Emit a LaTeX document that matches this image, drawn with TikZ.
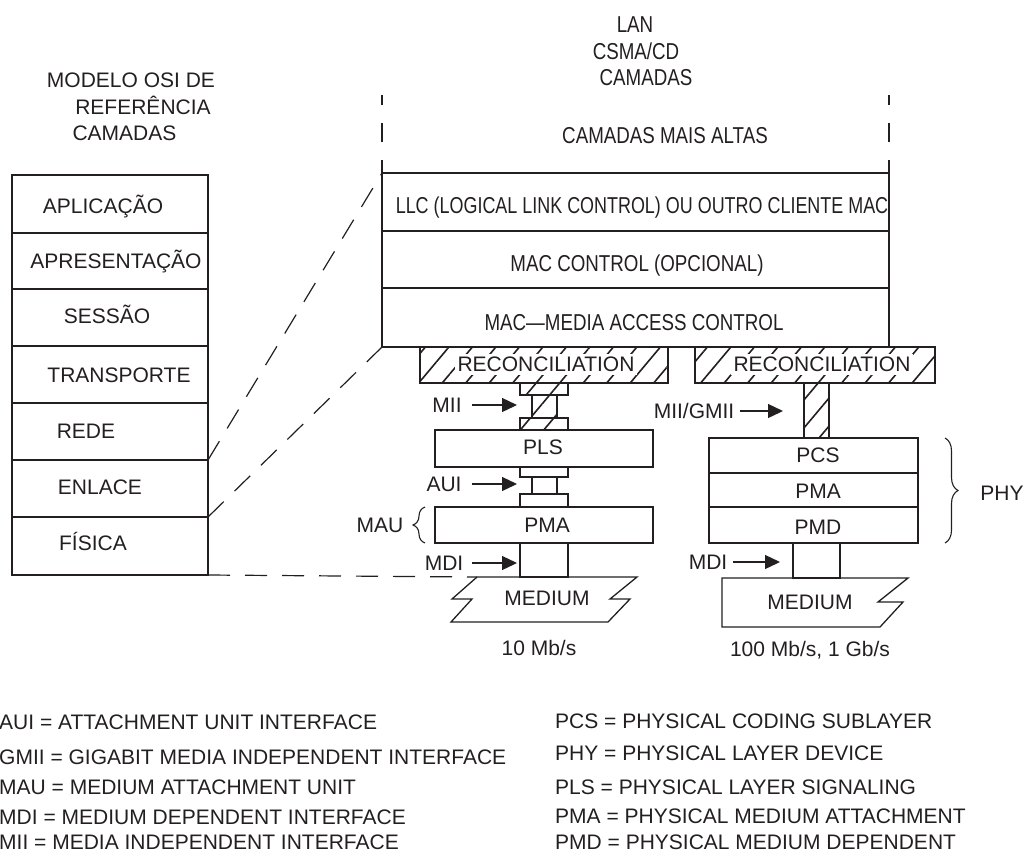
\documentclass[tikz,border=0pt]{standalone}
\usepackage{fontspec}
\setmainfont{Liberation Sans}
\newfontfamily\narrowfont[FakeStretch=0.815]{Liberation Sans}
\newfontfamily\narrowerfont[FakeStretch=0.78]{Liberation Sans}
\usetikzlibrary{arrows.meta,patterns.meta,decorations.pathreplacing}
\definecolor{ink}{RGB}{35,31,32}
\newcommand{\mkbox}[6][]{\node[box,#1,anchor=north west,minimum width={(#5-#3)*1pt},minimum height={(#6-#4)*1pt}] (#2) at (#3,#4) {};}
\begin{document}
\begin{tikzpicture}[x=1pt,y=-1pt,
  box/.style={draw=ink,line width=1.3pt,inner sep=0pt,outer sep=0pt},
  hatch/.style={pattern={Lines[angle=50,distance=18pt,line width=1.6pt]},pattern color=ink},
  lbl/.style={font=\fontsize{21}{25}\selectfont,text=ink,inner sep=0pt,text height=15pt,text depth=0pt},
  nlbl/.style={lbl,font=\fontsize{23}{27}\selectfont\narrowfont,text height=16.5pt},
  wlbl/.style={lbl,fill=white,inner xsep=3pt,inner ysep=3pt},
  lgd/.style={lbl,anchor=west},
  arr/.style={draw=ink,line width=1.3pt,-{Triangle[length=15pt,width=14pt]}},
  dsh/.style={draw=ink,line width=1.2pt,dash pattern=on 22pt off 15pt},
  vdsh/.style={draw=ink,line width=1.1pt,dash pattern=on 10pt off 18pt on 19pt off 18pt on 20pt},
  brc/.style={draw=ink,line width=1.1pt,decorate},
  medium/.style={draw=ink,line width=1.3pt,line join=miter}
]
\useasboundingbox (0,0) rectangle (1027,854);

% ---------- OSI model ----------
\node[lbl] (osi1) at (131,80) {MODELO OSI DE};
\node[lbl] (osi2) at (143,107) {REFERÊNCIA};
\node[lbl] (osi3) at (124.5,133) {CAMADAS};
\mkbox{apl}{12}{175}{208}{233}
\mkbox{apr}{12}{233}{208}{289}
\mkbox{ses}{12}{289}{208}{346}
\mkbox{tra}{12}{346}{208}{403}
\mkbox{red}{12}{403}{208}{460}
\mkbox{enl}{12}{460}{208}{517}
\mkbox{fis}{12}{517}{208}{575}
\node[lbl] (aplT) at (103,206) {APLICAÇÃO};
\node[lbl] (aprT) at (116,261) {APRESENTAÇÃO};
\node[lbl] (sesT) at (107,316) {SESSÃO};
\node[lbl] (traT) at (119,375) {TRANSPORTE};
\node[lbl] (redT) at (86,431) {REDE};
\node[lbl] (enlT) at (100,487) {ENLACE};
\node[lbl] (fisT) at (93,543) {FÍSICA};

% ---------- LAN CSMA/CD ----------
\node[nlbl] (lan1) at (635,24) {LAN};
\node[nlbl] (lan2) at (636,51) {CSMA/CD};
\node[nlbl] (lan3) at (646,77) {CAMADAS};
\node[nlbl] (upper) at (665,135) {CAMADAS MAIS ALTAS};
\mkbox{llc}{382}{173}{889}{231}
\mkbox{macc}{382}{231}{889}{288}
\mkbox{mac}{382}{288}{889}{347}
\node[nlbl,font=\fontsize{23}{27}\selectfont\narrowerfont] (llcT) at (642,205) {LLC (LOGICAL LINK CONTROL) OU OUTRO CLIENTE MAC};
\node[nlbl] (maccT) at (637,263) {MAC CONTROL (OPCIONAL)};
\node[nlbl] (macT) at (634,322) {MAC—MEDIA ACCESS CONTROL};
\coordinate (lanL) at (382,95);
\coordinate (lanR) at (889,95);
\draw[vdsh] (lanL) -- (llc.north west);
\draw[vdsh] (lanR) -- (llc.north east);

% ---------- 10 Mb/s stack ----------
\mkbox[hatch]{rec1}{420}{347}{668}{383}
\mkbox[hatch]{mii1}{520}{383}{568}{395}
\mkbox[hatch]{mii2}{532}{395}{557}{418}
\mkbox[hatch]{mii3}{520}{418}{568}{430}
\mkbox{pls}{435}{430}{653}{467}
\mkbox{aui1}{520}{467}{568}{477}
\mkbox{aui2}{532}{477}{557}{494}
\mkbox{aui3}{520}{494}{568}{507}
\mkbox{pma1}{435}{507}{653}{543}
\mkbox{mdi1}{520}{543}{568}{577}
\draw[medium] (477,577) -- (637,577) -- (610,599) -- (630,599) -- (608,622)
  -- (451,622) -- (472,599) -- (452,599) -- cycle;
\coordinate (m1tl) at (477,577);
\node[wlbl] (rec1T) at (546,364) {RECONCILIATION};
\node[lbl] (plsT) at (543,447) {PLS};
\node[lbl] (pma1T) at (547,525) {PMA};
\node[lbl] (med1T) at (547,598) {MEDIUM};
\node[lbl] (rate1) at (539,648) {10 Mb/s};
\node[lbl] (miiL) at (447,405) {MII};
\node[lbl] (auiL) at (444,484) {AUI};
\node[lbl] (mdiL) at (444,563) {MDI};
\node[lbl] (mauL) at (380,525) {MAU};
\draw[arr,shorten <=10pt,shorten >=15pt] (miiL.east) -- (miiL.east -| mii2.west);
\draw[arr,shorten <=10pt,shorten >=15pt] (auiL.east) -- (auiL.east -| aui2.west);
\draw[arr,shorten <=9pt,shorten >=3pt] (mdiL.east) -- (mdiL.east -| mdi1.west);
\draw[brc,decoration={brace,amplitude=12pt}] ([xshift=-10pt]pma1.south west) -- ([xshift=-10pt]pma1.north west);

% ---------- 100 Mb/s, 1 Gb/s stack ----------
\mkbox[hatch]{rec2}{695}{347}{935}{383}
\mkbox[hatch]{gmii}{804}{383}{829}{438}
\mkbox{pcs}{709}{438}{918}{473}
\mkbox{pma2}{709}{473}{918}{507}
\mkbox{pmd}{709}{507}{918}{543}
\mkbox{mdi2}{793}{543}{840}{578}
\draw[medium] (722,578) -- (908,578) -- (878,602) -- (903,602) -- (880,627)
  -- (722,627) -- cycle;
\node[wlbl] (rec2T) at (822,364) {RECONCILIATION};
\node[lbl] (pcsT) at (818,455) {PCS};
\node[lbl] (pma2T) at (818,491) {PMA};
\node[lbl] (pmdT) at (818,527) {PMD};
\node[lbl] (med2T) at (810,602) {MEDIUM};
\node[lbl] (rate2) at (810,649) {100 Mb/s, 1 Gb/s};
\node[lbl] (gmiiL) at (694,411) {MII/GMII};
\node[lbl] (mdi2L) at (708,562) {MDI};
\node[lbl] (phyL) at (1002,493) {PHY};
\draw[arr,shorten <=6pt,shorten >=21pt] (gmiiL.east) -- (gmiiL.east -| gmii.west);
\draw[arr,shorten <=6pt,shorten >=13pt] (mdi2L.east) -- (mdi2L.east -| mdi2.west);
\draw[brc,decoration={brace,amplitude=13pt}] ([xshift=27pt]pcs.north east) -- ([xshift=27pt]pmd.south east);

% ---------- dashed correspondence lines ----------
\draw[dsh] (enl.north east) -- (llc.north west);
\draw[dsh] (enl.south east) -- (mac.south west);
\draw[dsh] (fis.south east) -- (m1tl);

% ---------- legend ----------
\node[lgd] (lg1) at (-1,722) {AUI = ATTACHMENT UNIT INTERFACE};
\node[lgd] (lg2) at (-1,757) {GMII = GIGABIT MEDIA INDEPENDENT INTERFACE};
\node[lgd] (lg3) at (-1,787) {MAU = MEDIUM ATTACHMENT UNIT};
\node[lgd] (lg4) at (-1,817) {MDI = MEDIUM DEPENDENT INTERFACE};
\node[lgd] (lg5) at (-1,842) {MII = MEDIA INDEPENDENT INTERFACE};
\node[lgd] (lg6) at (555,721) {PCS = PHYSICAL CODING SUBLAYER};
\node[lgd] (lg7) at (555,753) {PHY = PHYSICAL LAYER DEVICE};
\node[lgd] (lg8) at (555,787) {PLS = PHYSICAL LAYER SIGNALING};
\node[lgd] (lg9) at (555,816) {PMA = PHYSICAL MEDIUM ATTACHMENT};
\node[lgd] (lg10) at (555,842) {PMD = PHYSICAL MEDIUM DEPENDENT};
\end{tikzpicture}
\end{document}
